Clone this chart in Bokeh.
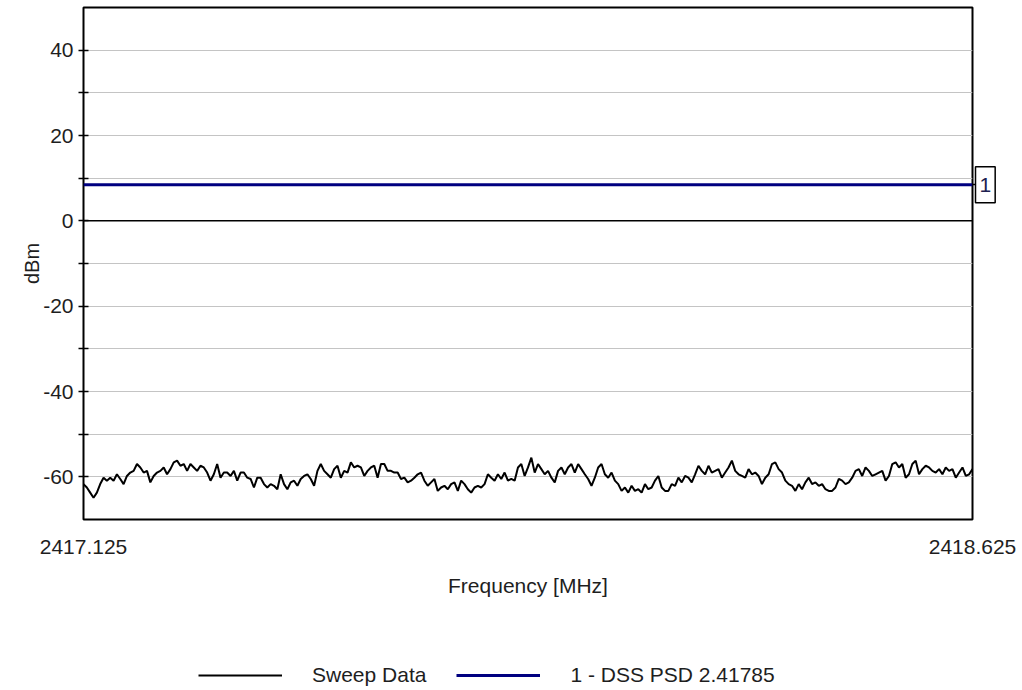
import numpy as np
from bokeh.plotting import figure
from bokeh.layouts import column
from bokeh.models import (Range1d, FixedTicker, PrintfTickFormatter, Span, Label,
                          Legend, LegendItem, LinearAxis)
from bokeh.embed import file_html
from bokeh.resources import INLINE

# ---------------- data ----------------
f_start = 2417.125
f_stop = 2418.625

sweep_dbm = [
    -61.7, -62.5, -63.7, -64.9, -63.7, -61.7, -60.2, -60.9, -60.2, -60.9,
    -59.4, -60.5, -61.7, -59.8, -59.0, -58.6, -57.0, -57.8, -59.0, -58.6,
    -61.3, -59.8, -59.0, -58.6, -57.8, -59.4, -58.2, -56.6, -56.2, -57.4,
    -57.0, -58.6, -57.0, -57.8, -58.6, -57.4, -57.8, -59.0, -60.9, -59.4,
    -57.0, -60.2, -59.0, -59.0, -59.8, -58.6, -60.9, -59.0, -59.0, -60.2,
    -60.5, -62.5, -60.2, -60.2, -61.7, -62.5, -61.7, -62.1, -62.9, -59.4,
    -61.7, -62.9,
    -61.3, -60.9, -62.1, -60.5, -59.8, -59.4, -60.5, -62.1, -58.6, -57.0,
    -58.6, -59.4, -60.2, -58.2, -57.4, -60.2, -58.6, -59.0, -56.6, -57.8,
    -57.4, -57.8, -59.8, -58.6, -57.8, -57.4, -60.2, -57.0, -57.0, -58.6,
    -58.6, -59.0, -59.0, -60.5, -60.2, -61.3, -60.9, -60.2, -59.4, -59.0,
    -60.9, -62.1, -61.3, -60.5, -63.3, -62.5, -62.1, -62.9, -61.7, -61.3,
    -63.3, -60.9, -61.7, -62.9, -63.7, -62.5, -62.1, -62.5, -61.7, -59.4,
    -60.2, -60.9, -59.4, -60.5, -59.0, -60.9,
    -60.5, -60.9, -57.8, -57.0, -59.8, -57.8, -55.5, -59.0, -57.0, -58.2,
    -59.4, -58.6, -60.2, -61.3, -58.6, -57.8, -59.4, -57.8, -57.0, -59.0,
    -57.0, -58.2, -59.4, -60.5, -62.1, -60.2, -57.8, -57.0, -59.4, -60.2,
    -59.0, -60.9, -61.7, -63.3, -62.5, -63.7, -62.1, -63.3, -62.9, -63.7,
    -61.7, -62.9, -62.5, -60.9, -59.8, -62.5, -63.3, -63.3, -61.7, -62.1,
    -60.2, -61.3, -59.8, -60.2, -61.3, -59.4, -57.4, -58.6, -59.4, -57.4,
    -59.0, -58.6, -58.2, -60.2, -59.0, -57.8,
    -56.2, -58.6, -59.4, -59.8, -60.2, -58.2, -59.4, -59.0, -59.8, -61.7,
    -60.2, -59.4, -57.0, -56.6, -58.2, -59.0, -60.9, -61.7, -62.1, -63.3,
    -61.7, -62.9, -61.3, -60.2, -61.7, -61.3, -62.1, -61.7, -62.9, -63.3,
    -63.3, -62.5, -60.5, -60.9, -61.7, -61.3, -60.2, -58.6, -58.2, -59.8,
    -57.8, -58.6, -59.8, -59.4, -59.0, -58.6, -60.9, -59.8, -57.0, -56.6,
    -57.8, -57.0, -60.2, -59.4, -57.0, -56.2, -59.4, -58.2, -57.4, -57.8,
    -58.6, -59.0, -58.2, -59.4, -57.8, -58.6, -58.2, -60.2, -59.0, -57.8,
    -59.8, -59.4, -58.2,
]

marker_dbm = 8.44
marker_id = "1"
marker_name = "1 - DSS PSD 2.41785"
sweep_name = "Sweep Data"

y_min, y_max = -70, 50
y_major_ticks = [-60, -40, -20, 0, 20, 40]
y_minor_ticks = [-50, -30, -10, 10, 30]
grid_levels = [-60, -50, -40, -30, -20, -10, 10, 20, 30, 40]
x_ticks = [f_start, f_stop]

FONT = "Liberation Sans"
TXT = "#1e1e1e"
FS = "21px"
SWEEP_COLOR = "black"
MARKER_COLOR = "#000080"

W = 1022
H_MAIN, H_LEG = 640, 50

freq = np.linspace(f_start, f_stop, len(sweep_dbm))

p = figure(width=W, height=H_MAIN, output_backend="svg", toolbar_location=None,
           x_range=Range1d(f_start, f_stop), y_range=Range1d(y_min, y_max),
           min_border_left=83, min_border_right=50, min_border_top=7,
           min_border_bottom=H_MAIN - 519)
p.background_fill_color = "white"
p.border_fill_color = "white"
p.outline_line_color = "black"
p.outline_line_width = 2

# grids
p.xgrid.visible = False
p.ygrid.ticker = FixedTicker(ticks=grid_levels)
p.ygrid.grid_line_color = "#c4c4c4"
p.ygrid.grid_line_width = 1.2

p.add_layout(Span(location=0, dimension="width", line_color="black", line_width=1.5))

# y axis
ya = p.yaxis[0]
ya.ticker = FixedTicker(ticks=y_major_ticks, minor_ticks=y_minor_ticks)
ya.formatter = PrintfTickFormatter(format="%d")
ya.axis_line_color = None
ya.major_tick_in = 5
ya.major_tick_out = 5
ya.minor_tick_in = 5
ya.minor_tick_out = 5
ya.major_tick_line_color = "black"
ya.minor_tick_line_color = "black"
ya.major_tick_line_width = 1.5
ya.minor_tick_line_width = 1.5
ya.major_label_standoff = 5
ya.major_label_text_font = FONT
ya.major_label_text_font_size = FS
ya.major_label_text_color = TXT
ya.axis_label = "dBm"
ya.axis_label_text_font = FONT
ya.axis_label_text_font_size = "20px"
ya.axis_label_text_font_style = "normal"
ya.axis_label_text_color = TXT
ya.axis_label_standoff = -3

# x axis
xa = p.xaxis[0]
xa.ticker = FixedTicker(ticks=x_ticks)
xa.formatter = PrintfTickFormatter(format="%.3f")
xa.axis_line_color = None
xa.major_tick_in = 0
xa.major_tick_out = 0
xa.minor_tick_line_color = None
xa.major_label_standoff = 20
xa.major_label_text_font = FONT
xa.major_label_text_font_size = FS
xa.major_label_text_color = TXT
xa.axis_label = "Frequency [MHz]"
xa.axis_label_text_font = FONT
xa.axis_label_text_font_size = FS
xa.axis_label_text_font_style = "normal"
xa.axis_label_text_color = TXT
xa.axis_label_standoff = 17

# series
r_sweep = p.line(freq, sweep_dbm, line_color=SWEEP_COLOR, line_width=2)
r_marker = p.line(x_ticks, [marker_dbm, marker_dbm], line_color=MARKER_COLOR, line_width=3)

# short connector tick from the frame to the marker tag
ra = LinearAxis(ticker=FixedTicker(ticks=[marker_dbm]))
ra.axis_line_color = None
ra.major_tick_in = 0
ra.major_tick_out = 3
ra.major_tick_line_color = "black"
ra.major_tick_line_width = 1.5
ra.minor_tick_line_color = None
ra.major_label_text_font_size = "0px"
ra.major_label_text_alpha = 0
p.add_layout(ra, "right")

# marker tag (boxed id) just outside the right edge of the frame
tag = Label(x=f_stop, y=marker_dbm, x_offset=3, text=marker_id,
            text_align="left", text_baseline="middle", text_font=FONT,
            text_font_size=FS, text_color="#202050",
            border_line_color="black", border_line_width=1.5,
            background_fill_color="white", padding=(4, 11))
p.add_layout(tag, "right")

# legend in its own strip below the chart
pl = figure(width=W, height=H_LEG, output_backend="svg", toolbar_location=None,
            x_range=Range1d(0, 1), y_range=Range1d(0, 1),
            x_axis_type=None, y_axis_type=None,
            min_border_left=0, min_border_right=0, min_border_top=0,
            min_border_bottom=0)
pl.outline_line_color = None
pl.background_fill_color = "white"
pl.border_fill_color = "white"
nan = float("nan")
l_sweep = pl.line(x=[nan], y=[nan], line_color=SWEEP_COLOR, line_width=2)
l_marker = pl.line(x=[nan], y=[nan], line_color=MARKER_COLOR, line_width=3)

legend = Legend(items=[LegendItem(label=sweep_name, renderers=[l_sweep]),
                       LegendItem(label=marker_name, renderers=[l_marker])],
                orientation="horizontal", location=(115, 3),
                glyph_width=84, glyph_height=22, label_standoff=30, spacing=30,
                padding=0, margin=0, border_line_color=None,
                background_fill_alpha=0, label_text_font=FONT,
                label_text_font_size=FS, label_text_color=TXT)
pl.add_layout(legend)

layout = column(p, pl, spacing=0)
open("out.html", "w").write(file_html(layout, INLINE))
